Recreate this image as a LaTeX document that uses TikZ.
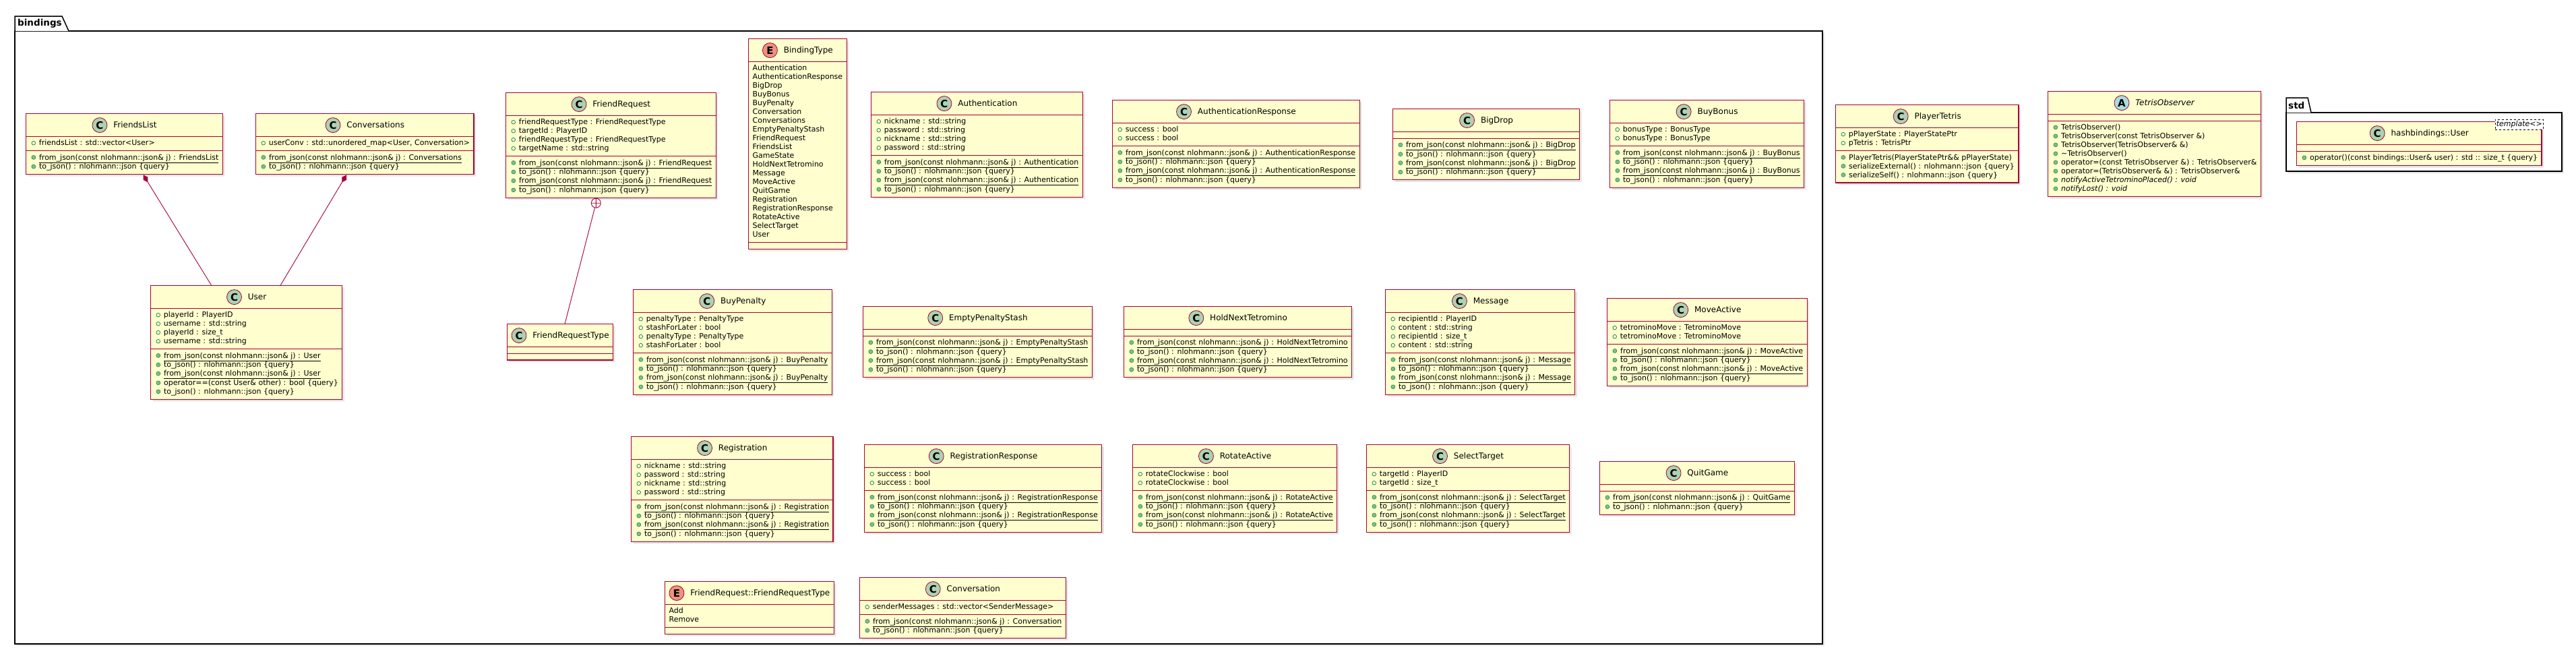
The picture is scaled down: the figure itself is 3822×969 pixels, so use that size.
\documentclass[tikz,border=0pt]{standalone}
\usepackage{fontspec}
\setmainfont{DejaVu Sans}
\usetikzlibrary{shapes.multipart,shadows,arrows.meta}
\definecolor{boxfill}{HTML}{FEFECE}
\definecolor{boxline}{HTML}{A80036}
\definecolor{cfill}{HTML}{ADD1B2}
\definecolor{efill}{HTML}{EB937F}
\definecolor{afill}{HTML}{A9DCDF}
\definecolor{visline}{HTML}{038048}
\definecolor{visfill}{HTML}{84BE84}
\newcommand{\kind}[3]{{\fontsize{12}{14}\selectfont\tikz[baseline={([yshift=-4.3pt]k.center)}]{\node[circle,draw=boxline,fill=#1,line width=0.8pt,minimum size=22pt,inner sep=0pt,font=\bfseries\fontsize{15}{15}\selectfont] (k) {#2};\path ([yshift=1.5pt]k.north) ([yshift=-1.5pt]k.south);}\hspace{9pt}#3}}
\newcommand{\fld}{\hspace{2pt}\tikz[baseline=-3.6pt]\draw[visline,line width=0.7pt] (0pt,0pt) circle[radius=2.8pt];\hspace{5pt}}
\newcommand{\mth}{\hspace{2pt}\tikz[baseline=-3.6pt]\draw[visline,fill=visfill,line width=0.5pt] (0pt,0pt) circle[radius=3pt];\hspace{5pt}}
\newcommand{\rows}[1]{\begin{tabular}{@{}l@{}}#1\end{tabular}}
\newcommand{\none}{\rule{0pt}{1.5pt}}
\newcommand{\fromjson}[1]{\mth\underline{from\_json(const nlohmann::json\& j) : #1}}
\newcommand{\tojson}{\mth to\_json() : nlohmann::json \{query\}}
\begin{document}
\begin{tikzpicture}[x=1pt,y=1pt]
\tikzstyle{every node}+=[inner sep=0pt]
\tikzstyle{umlclass}=[rectangle split,rectangle split parts=3,rectangle split part align={center,left,left},rectangle split ignore empty parts=false,draw=boxline,fill=boxfill,line width=1.2pt,inner xsep=6pt,inner ysep=3.5pt,anchor=north west,font=\fontsize{11}{13}\selectfont,drop shadow={shadow xshift=3pt,shadow yshift=-3pt,opacity=0.22,fill=black!45}]
\tikzstyle{pkg}=[draw=black,line width=1.5pt,fill=white]
\tikzstyle{pkgname}=[anchor=west,font=\bfseries\fontsize{13.5}{16}\selectfont]
\tikzstyle{assoc}=[draw=boxline,line width=0.9pt]
\tikzstyle{comp}=[assoc,{Diamond[length=13pt,width=8pt,fill=boxline]}-]
\tikzstyle{nest}=[circle,draw=boxline,fill=white,line width=0.9pt,minimum size=14pt,sloped,allow upside down,anchor=west,pos=0,path picture={\draw[boxline,line width=0.9pt] (path picture bounding box.north) -- (path picture bounding box.south) (path picture bounding box.west) -- (path picture bounding box.east);}]
\tikzstyle{tmpl}=[draw=black,dashed,fill=white,line width=0.6pt,inner xsep=1.5pt,inner ysep=2pt,font=\itshape\fontsize{11}{13}\selectfont]
\useasboundingbox (0,0) rectangle (3822,-969);
\fill[white] (0,0) rectangle (3822,-969);
\draw[pkg,drop shadow={shadow xshift=3pt,shadow yshift=-3pt,opacity=0.2}] (22,-46) rectangle (2704,-955);
\draw[pkg] (22,-46) -- (22,-24) -- (92,-24) -- (102,-46);
\node[pkgname] (bindingsname) at (26,-35) {bindings};
\node[umlclass] (friendslist) at (38,-168) {\kind{cfill}{C}{FriendsList}
\nodepart{two}\rows{\fld friendsList : std::vector<User>}
\nodepart{three}\rows{\fromjson{FriendsList}\\ \tojson}};
\node[umlclass] (conversations) at (379,-168) {\kind{cfill}{C}{Conversations}
\nodepart{two}\rows{\fld userConv : std::unordered\_map<User, Conversation>}
\nodepart{three}\rows{\fromjson{Conversations}\\ \tojson}};
\node[umlclass] (user) at (223,-423) {\kind{cfill}{C}{User}
\nodepart{two}\rows{\fld playerId : PlayerID\\ \fld username : std::string\\ \fld playerId : size\_t\\ \fld username : std::string}
\nodepart{three}\rows{\fromjson{User}\\ \tojson\\ \fromjson{User}\\ \mth operator==(const User\& other) : bool \{query\}\\ \tojson}};
\node[umlclass] (friendrequest) at (750,-137) {\kind{cfill}{C}{FriendRequest}
\nodepart{two}\rows{\fld friendRequestType : FriendRequestType\\ \fld targetId : PlayerID\\ \fld friendRequestType : FriendRequestType\\ \fld targetName : std::string}
\nodepart{three}\rows{\fromjson{FriendRequest}\\ \tojson\\ \fromjson{FriendRequest}\\ \tojson}};
\node[umlclass] (frtype) at (752,-480) {\kind{cfill}{C}{FriendRequestType}
\nodepart{two}\none
\nodepart{three}\none};
\node[umlclass] (bindingtype) at (1110,-57) {\kind{efill}{E}{BindingType}
\nodepart{two}\rows{Authentication\\ AuthenticationResponse\\ BigDrop\\ BuyBonus\\ BuyPenalty\\ Conversation\\ Conversations\\ EmptyPenaltyStash\\ FriendRequest\\ FriendsList\\ GameState\\ HoldNextTetromino\\ Message\\ MoveActive\\ QuitGame\\ Registration\\ RegistrationResponse\\ RotateActive\\ SelectTarget\\ User}
\nodepart{three}\none};
\node[umlclass] (authentication) at (1292,-136) {\kind{cfill}{C}{Authentication}
\nodepart{two}\rows{\fld nickname : std::string\\ \fld password : std::string\\ \fld nickname : std::string\\ \fld password : std::string}
\nodepart{three}\rows{\fromjson{Authentication}\\ \tojson\\ \fromjson{Authentication}\\ \tojson}};
\node[umlclass] (authresponse) at (1650,-148) {\kind{cfill}{C}{AuthenticationResponse}
\nodepart{two}\rows{\fld success : bool\\ \fld success : bool}
\nodepart{three}\rows{\fromjson{AuthenticationResponse}\\ \tojson\\ \fromjson{AuthenticationResponse}\\ \tojson}};
\node[umlclass] (bigdrop) at (2066,-161) {\kind{cfill}{C}{BigDrop}
\nodepart{two}\none
\nodepart{three}\rows{\fromjson{BigDrop}\\ \tojson\\ \fromjson{BigDrop}\\ \tojson}};
\node[umlclass] (buybonus) at (2388,-148) {\kind{cfill}{C}{BuyBonus}
\nodepart{two}\rows{\fld bonusType : BonusType\\ \fld bonusType : BonusType}
\nodepart{three}\rows{\fromjson{BuyBonus}\\ \tojson\\ \fromjson{BuyBonus}\\ \tojson}};
\node[umlclass] (buypenalty) at (939,-429) {\kind{cfill}{C}{BuyPenalty}
\nodepart{two}\rows{\fld penaltyType : PenaltyType\\ \fld stashForLater : bool\\ \fld penaltyType : PenaltyType\\ \fld stashForLater : bool}
\nodepart{three}\rows{\fromjson{BuyPenalty}\\ \tojson\\ \fromjson{BuyPenalty}\\ \tojson}};
\node[umlclass] (emptypenalty) at (1280,-454) {\kind{cfill}{C}{EmptyPenaltyStash}
\nodepart{two}\none
\nodepart{three}\rows{\fromjson{EmptyPenaltyStash}\\ \tojson\\ \fromjson{EmptyPenaltyStash}\\ \tojson}};
\node[umlclass] (holdnext) at (1667,-454) {\kind{cfill}{C}{HoldNextTetromino}
\nodepart{two}\none
\nodepart{three}\rows{\fromjson{HoldNextTetromino}\\ \tojson\\ \fromjson{HoldNextTetromino}\\ \tojson}};
\node[umlclass] (message) at (2055,-429) {\kind{cfill}{C}{Message}
\nodepart{two}\rows{\fld recipientId : PlayerID\\ \fld content : std::string\\ \fld recipientId : size\_t\\ \fld content : std::string}
\nodepart{three}\rows{\fromjson{Message}\\ \tojson\\ \fromjson{Message}\\ \tojson}};
\node[umlclass] (moveactive) at (2384,-442) {\kind{cfill}{C}{MoveActive}
\nodepart{two}\rows{\fld tetrominoMove : TetrominoMove\\ \fld tetrominoMove : TetrominoMove}
\nodepart{three}\rows{\fromjson{MoveActive}\\ \tojson\\ \fromjson{MoveActive}\\ \tojson}};
\node[umlclass] (registration) at (936,-647) {\kind{cfill}{C}{Registration}
\nodepart{two}\rows{\fld nickname : std::string\\ \fld password : std::string\\ \fld nickname : std::string\\ \fld password : std::string}
\nodepart{three}\rows{\fromjson{Registration}\\ \tojson\\ \fromjson{Registration}\\ \tojson}};
\node[umlclass] (regresponse) at (1282,-659) {\kind{cfill}{C}{RegistrationResponse}
\nodepart{two}\rows{\fld success : bool\\ \fld success : bool}
\nodepart{three}\rows{\fromjson{RegistrationResponse}\\ \tojson\\ \fromjson{RegistrationResponse}\\ \tojson}};
\node[umlclass] (rotateactive) at (1680,-659) {\kind{cfill}{C}{RotateActive}
\nodepart{two}\rows{\fld rotateClockwise : bool\\ \fld rotateClockwise : bool}
\nodepart{three}\rows{\fromjson{RotateActive}\\ \tojson\\ \fromjson{RotateActive}\\ \tojson}};
\node[umlclass] (selecttarget) at (2027,-659) {\kind{cfill}{C}{SelectTarget}
\nodepart{two}\rows{\fld targetId : PlayerID\\ \fld targetId : size\_t}
\nodepart{three}\rows{\fromjson{SelectTarget}\\ \tojson\\ \fromjson{SelectTarget}\\ \tojson}};
\node[umlclass] (quitgame) at (2373,-684) {\kind{cfill}{C}{QuitGame}
\nodepart{two}\none
\nodepart{three}\rows{\fromjson{QuitGame}\\ \tojson}};
\node[umlclass] (frenum) at (986,-862) {\kind{efill}{E}{FriendRequest::FriendRequestType}
\nodepart{two}\rows{Add\\ Remove}
\nodepart{three}\none};
\node[umlclass] (conversation) at (1275,-856) {\kind{cfill}{C}{Conversation}
\nodepart{two}\rows{\fld senderMessages : std::vector<SenderMessage>}
\nodepart{three}\rows{\fromjson{Conversation}\\ \tojson}};
\draw[comp] (friendslist) -- (user);
\draw[comp] (conversations) -- (user);
\draw[assoc] (friendrequest) -- (frtype) node[nest] (nestmark) {};
\node[umlclass] (playertetris) at (2723,-155) {\kind{cfill}{C}{PlayerTetris}
\nodepart{two}\rows{\fld pPlayerState : PlayerStatePtr\\ \fld pTetris : TetrisPtr}
\nodepart{three}\rows{\mth PlayerTetris(PlayerStatePtr\&\& pPlayerState)\\ \mth serializeExternal() : nlohmann::json \{query\}\\ \mth serializeSelf() : nlohmann::json \{query\}}};
\node[umlclass] (tetrisobserver) at (3038,-135) {\kind{afill}{A}{\textit{TetrisObserver}}
\nodepart{two}\none
\nodepart{three}\rows{\mth TetrisObserver()\\ \mth TetrisObserver(const TetrisObserver \&)\\ \mth TetrisObserver(TetrisObserver\& \&)\\ \mth \textasciitilde TetrisObserver()\\ \mth operator=(const TetrisObserver \&) : TetrisObserver\&\\ \mth operator=(TetrisObserver\& \&) : TetrisObserver\&\\ \mth \textit{notifyActiveTetrominoPlaced() : void}\\ \mth \textit{notifyLost() : void}}};
\draw[pkg,drop shadow={shadow xshift=3pt,shadow yshift=-3pt,opacity=0.2}] (3392,-167) rectangle (3801,-254);
\draw[pkg] (3392,-167) -- (3392,-145) -- (3424,-145) -- (3429,-167);
\node[pkgname] (stdname) at (3395,-156) {std};
\node[umlclass] (hashuser) at (3407,-180) {\kind{cfill}{C}{hashbindings::User\hspace{78pt}}
\nodepart{two}\none
\nodepart{three}\rows{\mth operator()(const bindings::User\& user) : std :: size\_t \{query\}}};
\node[tmpl,anchor=north east] (hashtpl) at ([xshift=2pt,yshift=3pt]hashuser.north east) {template<>};
\end{tikzpicture}
\end{document}
